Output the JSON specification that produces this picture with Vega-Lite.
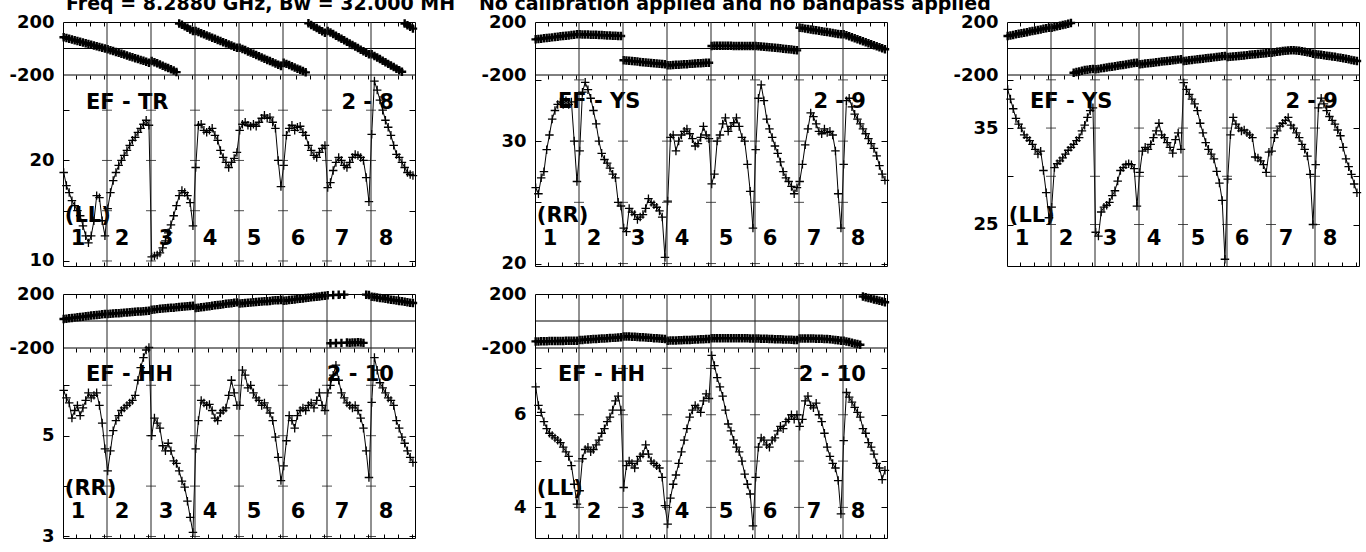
{
"$schema":"https://vega.github.io/schema/vega-lite/v6.json",
"background":"white",
"padding":{"left":8,"top":-6,"right":2,"bottom":2},
"config":{"view":{"stroke":"#000","strokeWidth":1},
"axis":{"labelFont":"DejaVu Sans","labelFontWeight":"bold","labelFontSize":18,"labelColor":"#000","tickColor":"#000","tickWidth":1,"domain":false,"grid":false},
"point":{"shape":"M-1,0H1M0,-1V1","size":72,"filled":false,"color":"#000","strokeWidth":1.3,"opacity":1},
"line":{"color":"#000","strokeWidth":1},
"rule":{"color":"#000","strokeWidth":1},
"tick":{"color":"#000","thickness":1,"orient":"horizontal","size":10},
"text":{"font":"DejaVu Sans","fontWeight":"bold","fontSize":21,"color":"#000","baseline":"alphabetic"}},
"datasets":{
"div":[{"d":32.5},{"d":64.5},{"d":96.5},{"d":128.5},{"d":160.5},{"d":192.5},{"d":224.5}],
"hl":[{"v":0},{"v":-200}],
"ifl":[{"t":"1","c":11.4},{"t":"2","c":43.4},{"t":"3","c":75.4},{"t":"4","c":107.4},{"t":"5","c":139.4},{"t":"6","c":171.4},{"t":"7","c":203.4},{"t":"8","c":235.4}],
"p1":[{"c":1,"a":18.8,"p":85},{"c":3,"a":17.5,"p":79},{"c":5,"a":16.8,"p":74},{"c":7,"a":16,"p":68},{"c":9,"a":15.5,"p":63},{"c":11,"a":15,"p":57},{"c":13,"a":14.5,"p":51},{"c":15,"a":13.5,"p":46},{"c":17,"a":12.5,"p":40},{"c":19,"a":11.8,"p":34},{"c":21,"a":12.5,"p":28},{"c":23,"a":14,"p":23},{"c":25,"a":16.5,"p":17},{"c":27,"a":16.3,"p":11},{"c":29,"a":14,"p":6},{"c":31,"a":12.5,"p":0},
{"c":33,"a":15.2,"p":-6},{"c":35,"a":16.8,"p":-13},{"c":37,"a":18,"p":-19},{"c":39,"a":18.8,"p":-26},{"c":41,"a":19.5,"p":-33},{"c":43,"a":20,"p":-40},{"c":45,"a":20.5,"p":-46},{"c":47,"a":21,"p":-53},{"c":49,"a":21.5,"p":-60},{"c":51,"a":22,"p":-66},{"c":53,"a":22.3,"p":-73},{"c":55,"a":22.8,"p":-80},{"c":57,"a":23.2,"p":-87},{"c":59,"a":23.6,"p":-93},{"c":61,"a":24,"p":-100},{"c":63,"a":23.5,"p":-107},
{"c":65,"a":10.4,"p":-94},{"c":67,"a":10.5,"p":-103},{"c":69,"a":10.6,"p":-112},{"c":71,"a":10.8,"p":-121},{"c":73,"a":11.3,"p":-130},{"c":75,"a":12,"p":-139},{"c":77,"a":12.8,"p":-148},{"c":79,"a":13.6,"p":-157},{"c":81,"a":14.5,"p":-166},{"c":83,"a":15.5,"p":-178},{"c":85,"a":16.5,"p":189},{"c":87,"a":17,"p":180},{"c":89,"a":16.8,"p":168},{"c":91,"a":16.5,"p":156},{"c":93,"a":15.8,"p":144},{"c":95,"a":13.5,"p":132},
{"c":97,"a":19.3,"p":132},{"c":99,"a":23.5,"p":124},{"c":101,"a":23.6,"p":115},{"c":103,"a":23,"p":107},{"c":105,"a":22.8,"p":98},{"c":107,"a":23,"p":90},{"c":109,"a":23.2,"p":82},{"c":111,"a":22.5,"p":73},{"c":113,"a":22,"p":65},{"c":115,"a":21,"p":56},{"c":117,"a":20.3,"p":48},{"c":119,"a":19.8,"p":40},{"c":121,"a":19.3,"p":31},{"c":123,"a":19.8,"p":23},{"c":125,"a":20.2,"p":14},{"c":127,"a":20.8,"p":6},
{"c":129,"a":23,"p":6},{"c":131,"a":23.6,"p":-3},{"c":133,"a":23.8,"p":-12},{"c":135,"a":23.5,"p":-22},{"c":137,"a":23.4,"p":-31},{"c":139,"a":23.6,"p":-40},{"c":141,"a":23.4,"p":-49},{"c":143,"a":23.8,"p":-58},{"c":145,"a":24.2,"p":-68},{"c":147,"a":24.5,"p":-77},{"c":149,"a":24.2,"p":-86},{"c":151,"a":24.3,"p":-95},{"c":153,"a":23.8,"p":-104},{"c":155,"a":23.2,"p":-114},{"c":157,"a":20,"p":-123},{"c":159,"a":17.4,"p":-132},
{"c":161,"a":19.5,"p":-107},{"c":163,"a":22.5,"p":-116},{"c":165,"a":23.2,"p":-125},{"c":167,"a":23.5,"p":-134},{"c":169,"a":23,"p":-143},{"c":171,"a":23.3,"p":-152},{"c":173,"a":23.4,"p":-161},{"c":175,"a":22.8,"p":-170},{"c":177,"a":22.5,"p":-180},{"c":179,"a":21.5,"p":190},{"c":181,"a":21,"p":178},{"c":183,"a":20.5,"p":166},{"c":185,"a":20.3,"p":154},{"c":187,"a":20.8,"p":142},{"c":189,"a":21.2,"p":130},{"c":191,"a":21.5,"p":119},
{"c":193,"a":17.3,"p":132},{"c":195,"a":17.8,"p":120},{"c":197,"a":19,"p":109},{"c":199,"a":19.8,"p":97},{"c":201,"a":20.3,"p":85},{"c":203,"a":20,"p":73},{"c":205,"a":19.5,"p":62},{"c":207,"a":19.3,"p":50},{"c":209,"a":19.8,"p":38},{"c":211,"a":20.3,"p":27},{"c":213,"a":20.6,"p":15},{"c":215,"a":20.5,"p":3},{"c":217,"a":20.3,"p":-9},{"c":219,"a":20,"p":-20},{"c":221,"a":18.3,"p":-32},{"c":223,"a":15.9,"p":-44},
{"c":225,"a":22.6,"p":-44},{"c":227,"a":27.9,"p":-56},{"c":229,"a":27,"p":-68},{"c":231,"a":26,"p":-80},{"c":233,"a":25,"p":-92},{"c":235,"a":24,"p":-104},{"c":237,"a":23.3,"p":-116},{"c":239,"a":22.5,"p":-128},{"c":241,"a":21.5,"p":-140},{"c":243,"a":20.6,"p":-152},{"c":245,"a":20.3,"p":-164},{"c":247,"a":19.8,"p":-176},{"c":249,"a":19.3,"p":188},{"c":251,"a":18.8,"p":176},{"c":253,"a":18.6,"p":164},{"c":255,"a":18.5,"p":150}],
"p2":[{"c":1,"a":26.2,"p":69},{"c":3,"a":25.7,"p":72},{"c":5,"a":27,"p":74},{"c":7,"a":27.5,"p":77},{"c":9,"a":29.3,"p":79},{"c":11,"a":30.5,"p":82},{"c":13,"a":31.8,"p":84},{"c":15,"a":32.5,"p":87},{"c":17,"a":33,"p":89},{"c":19,"a":33.2,"p":92},{"c":21,"a":33,"p":94},{"c":23,"a":33.3,"p":97},{"c":25,"a":33,"p":99},{"c":27,"a":33.2,"p":102},{"c":29,"a":30,"p":104},{"c":31,"a":26.7,"p":107},
{"c":33,"a":29.2,"p":107},{"c":35,"a":34,"p":106},{"c":37,"a":34.8,"p":106},{"c":39,"a":34.2,"p":105},{"c":41,"a":33.5,"p":104},{"c":43,"a":32.5,"p":103},{"c":45,"a":31.4,"p":103},{"c":47,"a":30,"p":102},{"c":49,"a":29,"p":101},{"c":51,"a":28.5,"p":100},{"c":53,"a":28.2,"p":99},{"c":55,"a":27.8,"p":98},{"c":57,"a":27.3,"p":97},{"c":59,"a":27,"p":96},{"c":61,"a":25,"p":95},{"c":63,"a":24.7,"p":94},
{"c":65,"a":22.9,"p":-89},{"c":67,"a":22.6,"p":-91},{"c":69,"a":24.5,"p":-93},{"c":71,"a":24.2,"p":-95},{"c":73,"a":24,"p":-97},{"c":75,"a":23.6,"p":-99},{"c":77,"a":23.8,"p":-101},{"c":79,"a":24,"p":-103},{"c":81,"a":24.5,"p":-105},{"c":83,"a":25.3,"p":-107},{"c":85,"a":25,"p":-109},{"c":87,"a":24.8,"p":-111},{"c":89,"a":24.6,"p":-113},{"c":91,"a":24.3,"p":-115},{"c":93,"a":23.8,"p":-117},{"c":95,"a":20.5,"p":-119},
{"c":97,"a":25.1,"p":-127},{"c":99,"a":30.3,"p":-126},{"c":101,"a":30.5,"p":-124},{"c":103,"a":29.2,"p":-123},{"c":105,"a":30,"p":-122},{"c":107,"a":30.5,"p":-120},{"c":109,"a":30.8,"p":-119},{"c":111,"a":31,"p":-118},{"c":113,"a":30.6,"p":-116},{"c":115,"a":30.2,"p":-115},{"c":117,"a":29.6,"p":-114},{"c":119,"a":29.8,"p":-112},{"c":121,"a":30.3,"p":-111},{"c":123,"a":31.2,"p":-110},{"c":125,"a":30.5,"p":-108},{"c":127,"a":30.2,"p":-107},
{"c":129,"a":26.5,"p":19},{"c":131,"a":27.3,"p":20},{"c":133,"a":30,"p":20},{"c":135,"a":30.5,"p":20},{"c":137,"a":31.4,"p":20},{"c":139,"a":31.9,"p":20},{"c":141,"a":30.8,"p":20},{"c":143,"a":31.2,"p":20},{"c":145,"a":31.5,"p":19},{"c":147,"a":31.9,"p":19},{"c":149,"a":31.2,"p":19},{"c":151,"a":30.3,"p":19},{"c":153,"a":30,"p":19},{"c":155,"a":28.1,"p":19},{"c":157,"a":25.9,"p":19},{"c":159,"a":22.9,"p":19},
{"c":161,"a":29.3,"p":19},{"c":163,"a":33.5,"p":17},{"c":165,"a":34.6,"p":15},{"c":167,"a":33.3,"p":13},{"c":169,"a":31.8,"p":11},{"c":171,"a":31,"p":9},{"c":173,"a":30.3,"p":7},{"c":175,"a":29.6,"p":5},{"c":177,"a":29,"p":3},{"c":179,"a":28.3,"p":1},{"c":181,"a":27.5,"p":-2},{"c":183,"a":27,"p":-4},{"c":185,"a":26.7,"p":-6},{"c":187,"a":26.3,"p":-8},{"c":189,"a":25.7,"p":-11},{"c":191,"a":26.2,"p":-14},
{"c":193,"a":26.7,"p":157},{"c":195,"a":28.1,"p":154},{"c":197,"a":29.7,"p":150},{"c":199,"a":31,"p":147},{"c":201,"a":32.3,"p":144},{"c":203,"a":32,"p":140},{"c":205,"a":31.4,"p":137},{"c":207,"a":30.8,"p":134},{"c":209,"a":30.6,"p":130},{"c":211,"a":31,"p":127},{"c":213,"a":30.7,"p":124},{"c":215,"a":30.8,"p":120},{"c":217,"a":30.5,"p":117},{"c":219,"a":29.2,"p":114},{"c":221,"a":25.7,"p":110},{"c":223,"a":22.9,"p":107},
{"c":225,"a":28.1,"p":107},{"c":227,"a":33.3,"p":100},{"c":229,"a":33.5,"p":93},{"c":231,"a":32.8,"p":85},{"c":233,"a":32.2,"p":78},{"c":235,"a":31.8,"p":70},{"c":237,"a":31.4,"p":63},{"c":239,"a":31,"p":55},{"c":241,"a":30.6,"p":48},{"c":243,"a":30.2,"p":40},{"c":245,"a":29.8,"p":33},{"c":247,"a":29.4,"p":25},{"c":249,"a":28.8,"p":17},{"c":251,"a":28,"p":9},{"c":253,"a":27.3,"p":2},{"c":255,"a":26.8,"p":-6}],
"p3":[{"c":1,"a":39,"p":94},{"c":3,"a":38,"p":98},{"c":5,"a":37,"p":102},{"c":7,"a":36,"p":107},{"c":9,"a":35.4,"p":111},{"c":11,"a":35,"p":115},{"c":13,"a":34.3,"p":119},{"c":15,"a":34,"p":123},{"c":17,"a":33.7,"p":128},{"c":19,"a":33.3,"p":132},{"c":21,"a":32.8,"p":136},{"c":23,"a":32.3,"p":140},{"c":25,"a":32.6,"p":144},{"c":27,"a":30.6,"p":149},{"c":29,"a":28.3,"p":153},{"c":31,"a":25.7,"p":157},
{"c":33,"a":26.8,"p":157},{"c":35,"a":30.9,"p":162},{"c":37,"a":31.3,"p":167},{"c":39,"a":31.6,"p":172},{"c":41,"a":31.9,"p":177},{"c":43,"a":32.3,"p":182},{"c":45,"a":32.7,"p":187},{"c":47,"a":33,"p":192},{"c":49,"a":33.3,"p":-183},{"c":51,"a":33.7,"p":-178},{"c":53,"a":34,"p":-173},{"c":55,"a":34.7,"p":-168},{"c":57,"a":35.3,"p":-163},{"c":59,"a":36.1,"p":-160},{"c":61,"a":36.8,"p":-157},{"c":63,"a":37.1,"p":-155},
{"c":65,"a":24.2,"p":-157},{"c":67,"a":23.8,"p":-154},{"c":69,"a":26.3,"p":-150},{"c":71,"a":26.8,"p":-147},{"c":73,"a":27,"p":-144},{"c":75,"a":27.3,"p":-140},{"c":77,"a":28,"p":-137},{"c":79,"a":28.5,"p":-134},{"c":81,"a":29.5,"p":-130},{"c":83,"a":30.6,"p":-127},{"c":85,"a":30.9,"p":-124},{"c":87,"a":31.2,"p":-120},{"c":89,"a":31.3,"p":-117},{"c":91,"a":31.2,"p":-114},{"c":93,"a":30.8,"p":-110},{"c":95,"a":26.9,"p":-107},
{"c":97,"a":30.4,"p":-119},{"c":99,"a":32.6,"p":-117},{"c":101,"a":33,"p":-114},{"c":103,"a":32.8,"p":-112},{"c":105,"a":33.3,"p":-109},{"c":107,"a":34,"p":-107},{"c":109,"a":34.7,"p":-104},{"c":111,"a":35.5,"p":-102},{"c":113,"a":34.3,"p":-99},{"c":115,"a":34,"p":-97},{"c":117,"a":33.5,"p":-94},{"c":119,"a":33,"p":-92},{"c":121,"a":32.4,"p":-89},{"c":123,"a":33.8,"p":-87},{"c":125,"a":34.5,"p":-84},{"c":127,"a":32.8,"p":-82},
{"c":129,"a":39.7,"p":-94},{"c":131,"a":39,"p":-92},{"c":133,"a":38.5,"p":-89},{"c":135,"a":38,"p":-87},{"c":137,"a":37.5,"p":-84},{"c":139,"a":36.8,"p":-82},{"c":141,"a":35.5,"p":-79},{"c":143,"a":34.5,"p":-77},{"c":145,"a":33.5,"p":-74},{"c":147,"a":32.8,"p":-72},{"c":149,"a":32.3,"p":-69},{"c":151,"a":31.8,"p":-67},{"c":153,"a":30.5,"p":-64},{"c":155,"a":29.3,"p":-62},{"c":157,"a":27.5,"p":-59},{"c":159,"a":21.4,"p":-57},
{"c":161,"a":29.7,"p":-64},{"c":163,"a":34.3,"p":-62},{"c":165,"a":36.1,"p":-60},{"c":167,"a":35.4,"p":-58},{"c":169,"a":35,"p":-56},{"c":171,"a":34.7,"p":-54},{"c":173,"a":34.8,"p":-52},{"c":175,"a":34.5,"p":-50},{"c":177,"a":34.3,"p":-47},{"c":179,"a":34,"p":-45},{"c":181,"a":32,"p":-43},{"c":183,"a":31.9,"p":-41},{"c":185,"a":31.6,"p":-39},{"c":187,"a":31.2,"p":-37},{"c":189,"a":30.4,"p":-35},{"c":191,"a":32.5,"p":-32},
{"c":193,"a":32.6,"p":-32},{"c":195,"a":34,"p":-28},{"c":197,"a":34.7,"p":-25},{"c":199,"a":35.2,"p":-22},{"c":201,"a":35.5,"p":-19},{"c":203,"a":35.8,"p":-17},{"c":205,"a":36.1,"p":-15},{"c":207,"a":35.3,"p":-14},{"c":209,"a":35,"p":-14},{"c":211,"a":34.5,"p":-15},{"c":213,"a":34,"p":-17},{"c":215,"a":33.3,"p":-20},{"c":217,"a":32.8,"p":-24},{"c":219,"a":32.1,"p":-28},{"c":221,"a":30.2,"p":-33},{"c":223,"a":25,"p":-39},
{"c":225,"a":31.2,"p":-44},{"c":227,"a":37.1,"p":-46},{"c":229,"a":38.1,"p":-48},{"c":231,"a":37.5,"p":-51},{"c":233,"a":36.8,"p":-54},{"c":235,"a":36.2,"p":-57},{"c":237,"a":35.8,"p":-60},{"c":239,"a":35.4,"p":-63},{"c":241,"a":34.8,"p":-67},{"c":243,"a":34.2,"p":-70},{"c":245,"a":33,"p":-74},{"c":247,"a":31.8,"p":-78},{"c":249,"a":31,"p":-82},{"c":251,"a":30.2,"p":-86},{"c":253,"a":29.2,"p":-90},{"c":255,"a":28.3,"p":-94}],
"p4":[{"c":1,"a":5.9,"p":15},{"c":3,"a":5.75,"p":17},{"c":5,"a":5.65,"p":20},{"c":7,"a":5.35,"p":22},{"c":9,"a":5.5,"p":25},{"c":11,"a":5.6,"p":27},{"c":13,"a":5.4,"p":30},{"c":15,"a":5.55,"p":32},{"c":17,"a":5.7,"p":35},{"c":19,"a":5.85,"p":37},{"c":21,"a":5.75,"p":40},{"c":23,"a":5.8,"p":42},{"c":25,"a":5.85,"p":45},{"c":27,"a":5.6,"p":47},{"c":29,"a":5.25,"p":50},{"c":31,"a":4.74,"p":52},
{"c":33,"a":4.3,"p":52},{"c":35,"a":4.7,"p":54},{"c":37,"a":5.1,"p":55},{"c":39,"a":5.3,"p":57},{"c":41,"a":5.4,"p":58},{"c":43,"a":5.5,"p":60},{"c":45,"a":5.55,"p":62},{"c":47,"a":5.6,"p":63},{"c":49,"a":5.65,"p":65},{"c":51,"a":5.7,"p":66},{"c":53,"a":5.8,"p":68},{"c":55,"a":6.1,"p":70},{"c":57,"a":6.35,"p":71},{"c":59,"a":6.55,"p":73},{"c":61,"a":6.7,"p":74},{"c":63,"a":6.75,"p":76},
{"c":65,"a":5,"p":84},{"c":67,"a":5.35,"p":86},{"c":69,"a":5.25,"p":88},{"c":71,"a":5.15,"p":90},{"c":73,"a":4.8,"p":92},{"c":75,"a":4.7,"p":94},{"c":77,"a":4.85,"p":96},{"c":79,"a":4.7,"p":98},{"c":81,"a":4.5,"p":99},{"c":83,"a":4.45,"p":101},{"c":85,"a":4.3,"p":103},{"c":87,"a":4.1,"p":105},{"c":89,"a":3.98,"p":107},{"c":91,"a":3.7,"p":109},{"c":93,"a":3.38,"p":111},{"c":95,"a":3.08,"p":113},
{"c":97,"a":4.74,"p":96},{"c":99,"a":5.3,"p":99},{"c":101,"a":5.7,"p":102},{"c":103,"a":5.65,"p":104},{"c":105,"a":5.6,"p":107},{"c":107,"a":5.62,"p":110},{"c":109,"a":5.5,"p":113},{"c":111,"a":5.35,"p":116},{"c":113,"a":5.3,"p":118},{"c":115,"a":5.45,"p":121},{"c":117,"a":5.5,"p":124},{"c":119,"a":5.55,"p":127},{"c":121,"a":5.8,"p":130},{"c":123,"a":6.1,"p":132},{"c":125,"a":5.85,"p":135},{"c":127,"a":5.6,"p":138},
{"c":129,"a":5.6,"p":130},{"c":131,"a":6.3,"p":132},{"c":133,"a":6.2,"p":133},{"c":135,"a":5.95,"p":135},{"c":137,"a":6,"p":137},{"c":139,"a":5.85,"p":139},{"c":141,"a":5.75,"p":140},{"c":143,"a":5.7,"p":142},{"c":145,"a":5.6,"p":144},{"c":147,"a":5.65,"p":146},{"c":149,"a":5.55,"p":147},{"c":151,"a":5.45,"p":149},{"c":153,"a":5.3,"p":151},{"c":155,"a":4.97,"p":153},{"c":157,"a":4.57,"p":154},{"c":159,"a":4.11,"p":156},
{"c":161,"a":4.4,"p":150},{"c":163,"a":4.9,"p":152},{"c":165,"a":5.4,"p":155},{"c":167,"a":5.3,"p":157},{"c":169,"a":5.15,"p":160},{"c":171,"a":5.4,"p":162},{"c":173,"a":5.5,"p":165},{"c":175,"a":5.55,"p":167},{"c":177,"a":5.5,"p":170},{"c":179,"a":5.6,"p":172},{"c":181,"a":5.65,"p":175},{"c":183,"a":5.55,"p":177},{"c":185,"a":5.7,"p":180},{"c":187,"a":5.85,"p":182},{"c":189,"a":5.6,"p":185},{"c":191,"a":5.5,"p":187},
{"c":193,"a":5.85,"p":190},{"c":195,"a":6,"p":-165},{"c":197,"a":6.2,"p":192},{"c":199,"a":6.4,"p":-163},{"c":201,"a":6.1,"p":194},{"c":203,"a":5.85,"p":-162},{"c":205,"a":5.75,"p":195},{"c":207,"a":5.65,"p":-160},{"c":209,"a":5.6,"p":-161},{"c":211,"a":5.55,"p":-160},{"c":213,"a":5.6,"p":-159},{"c":215,"a":5.5,"p":-158},{"c":217,"a":5.35,"p":-160},{"c":219,"a":5.15,"p":-162},{"c":221,"a":4.7,"p":195},{"c":223,"a":4.17,"p":192},
{"c":225,"a":5.66,"p":180},{"c":227,"a":6.55,"p":177},{"c":229,"a":6.3,"p":174},{"c":231,"a":6.05,"p":171},{"c":233,"a":5.95,"p":168},{"c":235,"a":5.85,"p":165},{"c":237,"a":5.75,"p":161},{"c":239,"a":5.7,"p":158},{"c":241,"a":5.6,"p":155},{"c":243,"a":5.3,"p":152},{"c":245,"a":5.15,"p":149},{"c":247,"a":4.97,"p":146},{"c":249,"a":4.85,"p":142},{"c":251,"a":4.7,"p":139},{"c":253,"a":4.57,"p":136},{"c":255,"a":4.47,"p":133}],
"p5":[{"c":1,"a":6.6,"p":-151},{"c":3,"a":6.2,"p":-151},{"c":5,"a":6.05,"p":-150},{"c":7,"a":5.85,"p":-150},{"c":9,"a":5.7,"p":-150},{"c":11,"a":5.6,"p":-149},{"c":13,"a":5.55,"p":-149},{"c":15,"a":5.5,"p":-149},{"c":17,"a":5.45,"p":-148},{"c":19,"a":5.4,"p":-148},{"c":21,"a":5.3,"p":-148},{"c":23,"a":5.2,"p":-147},{"c":25,"a":5.1,"p":-147},{"c":27,"a":4.9,"p":-147},{"c":29,"a":4.5,"p":-146},{"c":31,"a":4.07,"p":-146},
{"c":33,"a":4.36,"p":-141},{"c":35,"a":5.05,"p":-140},{"c":37,"a":5.25,"p":-138},{"c":39,"a":5.3,"p":-137},{"c":41,"a":5.2,"p":-136},{"c":43,"a":5.25,"p":-134},{"c":45,"a":5.35,"p":-133},{"c":47,"a":5.45,"p":-132},{"c":49,"a":5.6,"p":-130},{"c":51,"a":5.7,"p":-129},{"c":53,"a":5.85,"p":-128},{"c":55,"a":5.95,"p":-126},{"c":57,"a":6.1,"p":-125},{"c":59,"a":6.3,"p":-124},{"c":61,"a":6.4,"p":-122},{"c":63,"a":6.1,"p":-121},
{"c":65,"a":4.43,"p":-114},{"c":67,"a":4.9,"p":-114},{"c":69,"a":5,"p":-115},{"c":71,"a":4.95,"p":-116},{"c":73,"a":4.85,"p":-117},{"c":75,"a":5,"p":-118},{"c":77,"a":5.1,"p":-120},{"c":79,"a":5.15,"p":-121},{"c":81,"a":5.35,"p":-122},{"c":83,"a":5.15,"p":-124},{"c":85,"a":5,"p":-125},{"c":87,"a":4.95,"p":-127},{"c":89,"a":4.9,"p":-128},{"c":91,"a":4.85,"p":-130},{"c":93,"a":4.65,"p":-131},{"c":95,"a":4.04,"p":-133},
{"c":97,"a":3.64,"p":-146},{"c":99,"a":4.2,"p":-145},{"c":101,"a":4.5,"p":-145},{"c":103,"a":4.7,"p":-144},{"c":105,"a":4.95,"p":-143},{"c":107,"a":5.2,"p":-142},{"c":109,"a":5.45,"p":-141},{"c":111,"a":5.7,"p":-141},{"c":113,"a":5.95,"p":-140},{"c":115,"a":6.1,"p":-139},{"c":117,"a":6.2,"p":-138},{"c":119,"a":6.15,"p":-137},{"c":121,"a":6.05,"p":-136},{"c":123,"a":6.3,"p":-135},{"c":125,"a":6.45,"p":-134},{"c":127,"a":6.35,"p":-133},
{"c":129,"a":7.28,"p":-128},{"c":131,"a":7.06,"p":-128},{"c":133,"a":6.8,"p":-128},{"c":135,"a":6.6,"p":-127},{"c":137,"a":6.4,"p":-127},{"c":139,"a":6.1,"p":-127},{"c":141,"a":5.8,"p":-127},{"c":143,"a":5.65,"p":-127},{"c":145,"a":5.45,"p":-127},{"c":147,"a":5.3,"p":-127},{"c":149,"a":5.2,"p":-127},{"c":151,"a":5,"p":-128},{"c":153,"a":4.72,"p":-128},{"c":155,"a":4.5,"p":-128},{"c":157,"a":4.29,"p":-129},{"c":159,"a":3.6,"p":-129},
{"c":161,"a":4.65,"p":-129},{"c":163,"a":5.3,"p":-130},{"c":165,"a":5.5,"p":-131},{"c":167,"a":5.45,"p":-132},{"c":169,"a":5.35,"p":-132},{"c":171,"a":5.3,"p":-133},{"c":173,"a":5.45,"p":-134},{"c":175,"a":5.5,"p":-135},{"c":177,"a":5.65,"p":-135},{"c":179,"a":5.75,"p":-136},{"c":181,"a":5.7,"p":-137},{"c":183,"a":5.85,"p":-138},{"c":185,"a":5.9,"p":-138},{"c":187,"a":6,"p":-139},{"c":189,"a":5.9,"p":-140},{"c":191,"a":6,"p":-141},
{"c":193,"a":5.75,"p":-129},{"c":195,"a":5.9,"p":-129},{"c":197,"a":6.3,"p":-129},{"c":199,"a":6.4,"p":-130},{"c":201,"a":6.2,"p":-130},{"c":203,"a":6.15,"p":-130},{"c":205,"a":6.25,"p":-131},{"c":207,"a":6,"p":-131},{"c":209,"a":5.85,"p":-132},{"c":211,"a":5.6,"p":-133},{"c":213,"a":5.3,"p":-134},{"c":215,"a":5.1,"p":-136},{"c":217,"a":4.95,"p":-138},{"c":219,"a":4.85,"p":-141},{"c":221,"a":4.58,"p":-143},{"c":223,"a":3.86,"p":-146},
{"c":225,"a":5.44,"p":-146},{"c":227,"a":6.48,"p":-151},{"c":229,"a":6.38,"p":-156},{"c":231,"a":6.27,"p":-161},{"c":233,"a":6.16,"p":-166},{"c":235,"a":6.05,"p":-171},{"c":237,"a":5.95,"p":-176},{"c":239,"a":5.7,"p":181},{"c":241,"a":5.6,"p":176},{"c":243,"a":5.4,"p":171},{"c":245,"a":5.3,"p":166},{"c":247,"a":5.15,"p":160},{"c":249,"a":4.95,"p":155},{"c":251,"a":4.85,"p":150},{"c":253,"a":4.6,"p":144},{"c":255,"a":4.8,"p":139}]
},
"concat":[
{"width":352,"height":244,"data":{"name":"p1"},"layer":[
{"layer":[
{"mark":{"type":"point","strokeWidth":2.4},"encoding":{"x":{"field":"c","type":"quantitative","scale":{"domain":[0.5,256.5],"nice":false},"axis":{"orient":"top","values":[10,20,30,42,52,62,74,84,94,106,116,126,138,148,158,170,180,190,202,212,222,234,244,254],"labels":false,"tickSize":-4,"title":null}},"y":{"field":"p","type":"quantitative","scale":{"domain":[-200,200],"range":[53,0],"nice":false},"axis":{"orient":"left","values":[-200,200],"ticks":false,"tickSize":0,"labelPadding":9,"labelExpr":"datum.value>0?'200':'-200'","title":null}}}},
{"data":{"name":"hl"},"mark":"rule","encoding":{"y":{"field":"v","type":"quantitative","axis":null}}},
{"data":{"values":[{}]},"mark":{"type":"text","align":"left","fontSize":19},"encoding":{"x":{"datum":2.7,"axis":null},"y":{"datum":290.6,"axis":null},"text":{"value":"Freq = 8.2880 GHz, Bw = 32.000 MH"}}},
{"data":{"values":[{}]},"mark":{"type":"text","align":"left","fontSize":19},"encoding":{"x":{"datum":303,"axis":null},"y":{"datum":290.6,"axis":null},"text":{"value":"No calibration applied and no bandpass applied"}}}
],"resolve":{"axis":{"x":"independent","y":"independent"}}},
{"layer":[
{"mark":"line","encoding":{"x":{"field":"c","type":"quantitative","axis":{"orient":"bottom","values":[10,20,30,42,52,62,74,84,94,106,116,126,138,148,158,170,180,190,202,212,222,234,244,254],"labels":false,"tickSize":-4,"title":null}},"y":{"field":"a","type":"quantitative","scale":{"domain":[9.5,28.5],"range":[244,53],"nice":false,"zero":false},"axis":{"orient":"left","values":[10,15,20,25],"tickSize":-6,"labelPadding":15,"labelExpr":"datum.value==10||datum.value==20?datum.label:''","title":null}}}},
{"mark":"point","encoding":{"x":{"field":"c","type":"quantitative","axis":{"orient":"top","offset":-53,"values":[10,20,30,42,52,62,74,84,94,106,116,126,138,148,158,170,180,190,202,212,222,234,244,254],"labels":false,"tickSize":-4,"title":null}},"y":{"field":"a","type":"quantitative","axis":{"orient":"right","values":[10,15,20,25],"labels":false,"tickSize":-6,"title":null}}}},
{"data":{"name":"div"},"mark":"tick","encoding":{"x":{"field":"d","type":"quantitative","axis":null},"y":{"datum":10,"axis":null}}},
{"data":{"name":"div"},"mark":"tick","encoding":{"x":{"field":"d","type":"quantitative","axis":null},"y":{"datum":15,"axis":null}}},
{"data":{"name":"div"},"mark":"tick","encoding":{"x":{"field":"d","type":"quantitative","axis":null},"y":{"datum":20,"axis":null}}},
{"data":{"name":"div"},"mark":"tick","encoding":{"x":{"field":"d","type":"quantitative","axis":null},"y":{"datum":25,"axis":null}}},
{"data":{"name":"ifl"},"mark":{"type":"text","align":"center"},"encoding":{"x":{"field":"c","type":"quantitative","axis":null},"y":{"datum":11.54,"axis":null},"text":{"field":"t"}}},
{"data":{"values":[{}]},"mark":{"type":"text","align":"left"},"encoding":{"x":{"datum":17.2,"axis":null},"y":{"datum":25.09,"axis":null},"text":{"value":"EF - TR"}}},
{"data":{"values":[{}]},"mark":{"type":"text","align":"right"},"encoding":{"x":{"datum":241.2,"axis":null},"y":{"datum":25.09,"axis":null},"text":{"value":"2 - 8"}}},
{"data":{"values":[{}]},"mark":{"type":"text","align":"left"},"encoding":{"x":{"datum":1.8,"axis":null},"y":{"datum":13.91,"axis":null},"text":{"value":"(LL)"}}}
],"resolve":{"axis":{"x":"independent","y":"independent"}}},
{"data":{"name":"div"},"mark":{"type":"rule","color":"#222"},"encoding":{"x":{"field":"d","type":"quantitative","axis":null}}}
],"resolve":{"scale":{"y":"independent"},"axis":{"x":"independent","y":"independent"}}},
{"width":352,"height":244,"data":{"name":"p2"},"layer":[
{"layer":[
{"mark":{"type":"point","strokeWidth":2.4},"encoding":{"x":{"field":"c","type":"quantitative","scale":{"domain":[0.5,256.5],"nice":false},"axis":{"orient":"top","values":[10,20,30,42,52,62,74,84,94,106,116,126,138,148,158,170,180,190,202,212,222,234,244,254],"labels":false,"tickSize":-4,"title":null}},"y":{"field":"p","type":"quantitative","scale":{"domain":[-200,200],"range":[53,0],"nice":false},"axis":{"orient":"left","values":[-200,200],"ticks":false,"tickSize":0,"labelPadding":9,"labelExpr":"datum.value>0?'200':'-200'","title":null}}}},
{"data":{"name":"hl"},"mark":"rule","encoding":{"y":{"field":"v","type":"quantitative","axis":null}}}
],"resolve":{"axis":{"x":"independent","y":"independent"}}},
{"layer":[
{"mark":"line","encoding":{"x":{"field":"c","type":"quantitative","axis":{"orient":"bottom","values":[10,20,30,42,52,62,74,84,94,106,116,126,138,148,158,170,180,190,202,212,222,234,244,254],"labels":false,"tickSize":-4,"title":null}},"y":{"field":"a","type":"quantitative","scale":{"domain":[19.8,35.4],"range":[244,53],"nice":false,"zero":false},"axis":{"orient":"left","values":[20,25,30,35],"tickSize":-6,"labelPadding":15,"labelExpr":"datum.value==20||datum.value==30?datum.label:''","title":null}}}},
{"mark":"point","encoding":{"x":{"field":"c","type":"quantitative","axis":{"orient":"top","offset":-53,"values":[10,20,30,42,52,62,74,84,94,106,116,126,138,148,158,170,180,190,202,212,222,234,244,254],"labels":false,"tickSize":-4,"title":null}},"y":{"field":"a","type":"quantitative","axis":{"orient":"right","values":[20,25,30,35],"labels":false,"tickSize":-6,"title":null}}}},
{"data":{"name":"div"},"mark":"tick","encoding":{"x":{"field":"d","type":"quantitative","axis":null},"y":{"datum":20,"axis":null}}},
{"data":{"name":"div"},"mark":"tick","encoding":{"x":{"field":"d","type":"quantitative","axis":null},"y":{"datum":25,"axis":null}}},
{"data":{"name":"div"},"mark":"tick","encoding":{"x":{"field":"d","type":"quantitative","axis":null},"y":{"datum":30,"axis":null}}},
{"data":{"name":"div"},"mark":"tick","encoding":{"x":{"field":"d","type":"quantitative","axis":null},"y":{"datum":35,"axis":null}}},
{"data":{"name":"ifl"},"mark":{"type":"text","align":"center"},"encoding":{"x":{"field":"c","type":"quantitative","axis":null},"y":{"datum":21.49,"axis":null},"text":{"field":"t"}}},
{"data":{"values":[{}]},"mark":{"type":"text","align":"left"},"encoding":{"x":{"datum":17.2,"axis":null},"y":{"datum":32.73,"axis":null},"text":{"value":"EF - YS"}}},
{"data":{"values":[{}]},"mark":{"type":"text","align":"right"},"encoding":{"x":{"datum":241.2,"axis":null},"y":{"datum":32.73,"axis":null},"text":{"value":"2 - 9"}}},
{"data":{"values":[{}]},"mark":{"type":"text","align":"left"},"encoding":{"x":{"datum":1.8,"axis":null},"y":{"datum":23.42,"axis":null},"text":{"value":"(RR)"}}}
],"resolve":{"axis":{"x":"independent","y":"independent"}}},
{"data":{"name":"div"},"mark":{"type":"rule","color":"#222"},"encoding":{"x":{"field":"d","type":"quantitative","axis":null}}}
],"resolve":{"scale":{"y":"independent"},"axis":{"x":"independent","y":"independent"}}},
{"width":352,"height":244,"data":{"name":"p3"},"layer":[
{"layer":[
{"mark":{"type":"point","strokeWidth":2.4},"encoding":{"x":{"field":"c","type":"quantitative","scale":{"domain":[0.5,256.5],"nice":false},"axis":{"orient":"top","values":[10,20,30,42,52,62,74,84,94,106,116,126,138,148,158,170,180,190,202,212,222,234,244,254],"labels":false,"tickSize":-4,"title":null}},"y":{"field":"p","type":"quantitative","scale":{"domain":[-200,200],"range":[53,0],"nice":false},"axis":{"orient":"left","values":[-200,200],"ticks":false,"tickSize":0,"labelPadding":9,"labelExpr":"datum.value>0?'200':'-200'","title":null}}}},
{"data":{"name":"hl"},"mark":"rule","encoding":{"y":{"field":"v","type":"quantitative","axis":null}}}
],"resolve":{"axis":{"x":"independent","y":"independent"}}},
{"layer":[
{"mark":"line","encoding":{"x":{"field":"c","type":"quantitative","axis":{"orient":"bottom","values":[10,20,30,42,52,62,74,84,94,106,116,126,138,148,158,170,180,190,202,212,222,234,244,254],"labels":false,"tickSize":-4,"title":null}},"y":{"field":"a","type":"quantitative","scale":{"domain":[20.7,40.5],"range":[244,53],"nice":false,"zero":false},"axis":{"orient":"left","values":[25,30,35,40],"tickSize":-6,"labelPadding":15,"labelExpr":"datum.value==25||datum.value==35?datum.label:''","title":null}}}},
{"mark":"point","encoding":{"x":{"field":"c","type":"quantitative","axis":{"orient":"top","offset":-53,"values":[10,20,30,42,52,62,74,84,94,106,116,126,138,148,158,170,180,190,202,212,222,234,244,254],"labels":false,"tickSize":-4,"title":null}},"y":{"field":"a","type":"quantitative","axis":{"orient":"right","values":[25,30,35,40],"labels":false,"tickSize":-6,"title":null}}}},
{"data":{"name":"div"},"mark":"tick","encoding":{"x":{"field":"d","type":"quantitative","axis":null},"y":{"datum":25,"axis":null}}},
{"data":{"name":"div"},"mark":"tick","encoding":{"x":{"field":"d","type":"quantitative","axis":null},"y":{"datum":30,"axis":null}}},
{"data":{"name":"div"},"mark":"tick","encoding":{"x":{"field":"d","type":"quantitative","axis":null},"y":{"datum":35,"axis":null}}},
{"data":{"name":"div"},"mark":"tick","encoding":{"x":{"field":"d","type":"quantitative","axis":null},"y":{"datum":40,"axis":null}}},
{"data":{"name":"ifl"},"mark":{"type":"text","align":"center"},"encoding":{"x":{"field":"c","type":"quantitative","axis":null},"y":{"datum":22.85,"axis":null},"text":{"field":"t"}}},
{"data":{"values":[{}]},"mark":{"type":"text","align":"left"},"encoding":{"x":{"datum":17.2,"axis":null},"y":{"datum":37.1,"axis":null},"text":{"value":"EF - YS"}}},
{"data":{"values":[{}]},"mark":{"type":"text","align":"right"},"encoding":{"x":{"datum":241.2,"axis":null},"y":{"datum":37.1,"axis":null},"text":{"value":"2 - 9"}}},
{"data":{"values":[{}]},"mark":{"type":"text","align":"left"},"encoding":{"x":{"datum":1.8,"axis":null},"y":{"datum":25.29,"axis":null},"text":{"value":"(LL)"}}}
],"resolve":{"axis":{"x":"independent","y":"independent"}}},
{"data":{"name":"div"},"mark":{"type":"rule","color":"#222"},"encoding":{"x":{"field":"d","type":"quantitative","axis":null}}}
],"resolve":{"scale":{"y":"independent"},"axis":{"x":"independent","y":"independent"}}},
{"width":352,"height":244,"data":{"name":"p4"},"layer":[
{"layer":[
{"mark":{"type":"point","strokeWidth":2.4},"encoding":{"x":{"field":"c","type":"quantitative","scale":{"domain":[0.5,256.5],"nice":false},"axis":{"orient":"top","values":[10,20,30,42,52,62,74,84,94,106,116,126,138,148,158,170,180,190,202,212,222,234,244,254],"labels":false,"tickSize":-4,"title":null}},"y":{"field":"p","type":"quantitative","scale":{"domain":[-200,200],"range":[54,0],"nice":false},"axis":{"orient":"left","values":[-200,200],"ticks":false,"tickSize":0,"labelPadding":9,"labelExpr":"datum.value>0?'200':'-200'","title":null}}}},
{"data":{"name":"hl"},"mark":"rule","encoding":{"y":{"field":"v","type":"quantitative","axis":null}}}
],"resolve":{"axis":{"x":"independent","y":"independent"}}},
{"layer":[
{"mark":"line","encoding":{"x":{"field":"c","type":"quantitative","axis":{"orient":"bottom","values":[10,20,30,42,52,62,74,84,94,106,116,126,138,148,158,170,180,190,202,212,222,234,244,254],"labels":false,"tickSize":-4,"title":null}},"y":{"field":"a","type":"quantitative","scale":{"domain":[2.97,6.74],"range":[244,54],"nice":false,"zero":false},"axis":{"orient":"left","values":[3,4,5,6],"tickSize":-6,"labelPadding":15,"labelExpr":"datum.value==3||datum.value==5?datum.label:''","title":null}}}},
{"mark":"point","encoding":{"x":{"field":"c","type":"quantitative","axis":{"orient":"top","offset":-54,"values":[10,20,30,42,52,62,74,84,94,106,116,126,138,148,158,170,180,190,202,212,222,234,244,254],"labels":false,"tickSize":-4,"title":null}},"y":{"field":"a","type":"quantitative","axis":{"orient":"right","values":[3,4,5,6],"labels":false,"tickSize":-6,"title":null}}}},
{"data":{"name":"div"},"mark":"tick","encoding":{"x":{"field":"d","type":"quantitative","axis":null},"y":{"datum":3,"axis":null}}},
{"data":{"name":"div"},"mark":"tick","encoding":{"x":{"field":"d","type":"quantitative","axis":null},"y":{"datum":4,"axis":null}}},
{"data":{"name":"div"},"mark":"tick","encoding":{"x":{"field":"d","type":"quantitative","axis":null},"y":{"datum":5,"axis":null}}},
{"data":{"name":"div"},"mark":"tick","encoding":{"x":{"field":"d","type":"quantitative","axis":null},"y":{"datum":6,"axis":null}}},
{"data":{"name":"ifl"},"mark":{"type":"text","align":"center"},"encoding":{"x":{"field":"c","type":"quantitative","axis":null},"y":{"datum":3.36,"axis":null},"text":{"field":"t"}}},
{"data":{"values":[{}]},"mark":{"type":"text","align":"left"},"encoding":{"x":{"datum":17.2,"axis":null},"y":{"datum":6.085,"axis":null},"text":{"value":"EF - HH"}}},
{"data":{"values":[{}]},"mark":{"type":"text","align":"right"},"encoding":{"x":{"datum":241.2,"axis":null},"y":{"datum":6.085,"axis":null},"text":{"value":"2 - 10"}}},
{"data":{"values":[{}]},"mark":{"type":"text","align":"left"},"encoding":{"x":{"datum":1.8,"axis":null},"y":{"datum":3.823,"axis":null},"text":{"value":"(RR)"}}}
],"resolve":{"axis":{"x":"independent","y":"independent"}}},
{"data":{"name":"div"},"mark":{"type":"rule","color":"#222"},"encoding":{"x":{"field":"d","type":"quantitative","axis":null}}}
],"resolve":{"scale":{"y":"independent"},"axis":{"x":"independent","y":"independent"}}},
{"width":352,"height":244,"data":{"name":"p5"},"layer":[
{"layer":[
{"mark":{"type":"point","strokeWidth":2.4},"encoding":{"x":{"field":"c","type":"quantitative","scale":{"domain":[0.5,256.5],"nice":false},"axis":{"orient":"top","values":[10,20,30,42,52,62,74,84,94,106,116,126,138,148,158,170,180,190,202,212,222,234,244,254],"labels":false,"tickSize":-4,"title":null}},"y":{"field":"p","type":"quantitative","scale":{"domain":[-200,200],"range":[54,0],"nice":false},"axis":{"orient":"left","values":[-200,200],"ticks":false,"tickSize":0,"labelPadding":9,"labelExpr":"datum.value>0?'200':'-200'","title":null}}}},
{"data":{"name":"hl"},"mark":"rule","encoding":{"y":{"field":"v","type":"quantitative","axis":null}}}
],"resolve":{"axis":{"x":"independent","y":"independent"}}},
{"layer":[
{"mark":"line","encoding":{"x":{"field":"c","type":"quantitative","axis":{"orient":"bottom","values":[10,20,30,42,52,62,74,84,94,106,116,126,138,148,158,170,180,190,202,212,222,234,244,254],"labels":false,"tickSize":-4,"title":null}},"y":{"field":"a","type":"quantitative","scale":{"domain":[3.34,7.44],"range":[244,54],"nice":false,"zero":false},"axis":{"orient":"left","values":[4,5,6,7],"tickSize":-6,"labelPadding":15,"labelExpr":"datum.value==4||datum.value==6?datum.label:''","title":null}}}},
{"mark":"point","encoding":{"x":{"field":"c","type":"quantitative","axis":{"orient":"top","offset":-54,"values":[10,20,30,42,52,62,74,84,94,106,116,126,138,148,158,170,180,190,202,212,222,234,244,254],"labels":false,"tickSize":-4,"title":null}},"y":{"field":"a","type":"quantitative","axis":{"orient":"right","values":[4,5,6,7],"labels":false,"tickSize":-6,"title":null}}}},
{"data":{"name":"div"},"mark":"tick","encoding":{"x":{"field":"d","type":"quantitative","axis":null},"y":{"datum":4,"axis":null}}},
{"data":{"name":"div"},"mark":"tick","encoding":{"x":{"field":"d","type":"quantitative","axis":null},"y":{"datum":5,"axis":null}}},
{"data":{"name":"div"},"mark":"tick","encoding":{"x":{"field":"d","type":"quantitative","axis":null},"y":{"datum":6,"axis":null}}},
{"data":{"name":"div"},"mark":"tick","encoding":{"x":{"field":"d","type":"quantitative","axis":null},"y":{"datum":7,"axis":null}}},
{"data":{"name":"ifl"},"mark":{"type":"text","align":"center"},"encoding":{"x":{"field":"c","type":"quantitative","axis":null},"y":{"datum":3.772,"axis":null},"text":{"field":"t"}}},
{"data":{"values":[{}]},"mark":{"type":"text","align":"left"},"encoding":{"x":{"datum":17.2,"axis":null},"y":{"datum":6.728,"axis":null},"text":{"value":"EF - HH"}}},
{"data":{"values":[{}]},"mark":{"type":"text","align":"right"},"encoding":{"x":{"datum":241.2,"axis":null},"y":{"datum":6.728,"axis":null},"text":{"value":"2 - 10"}}},
{"data":{"values":[{}]},"mark":{"type":"text","align":"left"},"encoding":{"x":{"datum":1.8,"axis":null},"y":{"datum":4.268,"axis":null},"text":{"value":"(LL)"}}}
],"resolve":{"axis":{"x":"independent","y":"independent"}}},
{"data":{"name":"div"},"mark":{"type":"rule","color":"#222"},"encoding":{"x":{"field":"d","type":"quantitative","axis":null}}}
],"resolve":{"scale":{"y":"independent"},"axis":{"x":"independent","y":"independent"}}}
],
"columns":3,
"spacing":{"row":28,"column":120},
"bounds":"flush"
}
